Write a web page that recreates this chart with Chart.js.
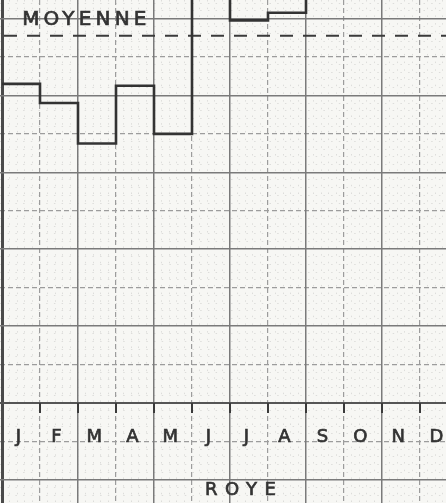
<!DOCTYPE html>
<html>
<head>
<meta charset="utf-8">
<script src="https://cdn.jsdelivr.net/npm/chart.js@4/dist/chart.umd.min.js"></script>
<style>
  html, body { margin: 0; padding: 0; background: #f7f7f4; }
  #wrap { width: 446px; height: 503px; position: relative; }
</style>
</head>
<body>
<div id="wrap"><canvas id="chart"></canvas></div>
<script>
// données (1 carreau = 10 unités)
const months = ["J", "F", "M", "A", "M", "J", "J", "A", "S", "O", "N", "D"];
// J..S ; juin et septembre dépassent le cadre (estimés)
const monthValues = [83, 78, 67.5, 82.5, 70, 115, 99.5, 101.5, 115];
const meanValue = 95.5;
const meanLabel = "MOYENNE";
const stationName = "ROYE";

// fenêtre visible du papier millimétré
const xMin = -2 / 38, xMax = 444 / 38;
const yMin = -26, yMax = 104.8;

// courbe en escalier : un point par début de mois + point final
const stepPoints = monthValues.map((v, i) => ({ x: i, y: v }));
stepPoints.push({ x: monthValues.length, y: monthValues[monthValues.length - 1] });

const range = (a, b, s) => {
  const out = [];
  for (let v = a; v <= b + 1e-9; v += s) out.push({ value: +v.toFixed(3) });
  return out;
};

const gridScale = (axis, min, max, ticks, grid, dash) => ({
  type: "linear",
  axis,
  min,
  max,
  afterBuildTicks: (s) => { s.ticks = ticks; },
  ticks: { display: false },
  grid: Object.assign({ drawTicks: false }, grid),
  border: { display: false, dash: dash || [] },
});

const fineX = range(0, 12, 0.2).filter((t) => Math.abs(t.value - Math.round(t.value)) > 0.01);
const fineY = range(-30, 110, 2).filter((t) => t.value % 10 !== 0);

// texte un peu épaissi (aspect tracé au normographe)
function inkText(ctx, text, px, py) {
  ctx.fillText(text, px, py);
  ctx.strokeText(text, px, py);
}

// texte étalé sur une largeur donnée (en mois)
function spreadText(ctx, x, text, left, widthMonths, py) {
  ctx.letterSpacing = "0px";
  const w = ctx.measureText(text).width;
  const target = x.getPixelForValue(left + widthMonths) - x.getPixelForValue(left);
  ctx.letterSpacing = Math.max(0, (target - w) / (text.length - 1)) + "px";
  inkText(ctx, text, x.getPixelForValue(left), py);
  ctx.letterSpacing = "0px";
}

const labelsPlugin = {
  id: "labels",
  afterDraw(chart) {
    const { ctx, scales: { x, y } } = chart;
    ctx.save();

    // petits traits en haut de la bande des mois
    ctx.strokeStyle = "#3a3a3a";
    ctx.lineWidth = 2;
    for (let i = 1; i < 12; i++) {
      const px = x.getPixelForValue(i);
      ctx.beginPath();
      ctx.moveTo(px, y.getPixelForValue(0));
      ctx.lineTo(px, y.getPixelForValue(-2.6));
      ctx.stroke();
    }

    ctx.fillStyle = "#333333";
    ctx.strokeStyle = "#333333";
    ctx.lineWidth = 0.7;
    ctx.textBaseline = "middle";
    ctx.textAlign = "center";
    ctx.font = "18px 'DejaVu Sans'";
    months.forEach((m, i) => {
      inkText(ctx, m, x.getPixelForValue(i + 0.43), y.getPixelForValue(-8.8));
    });

    ctx.textAlign = "left";
    ctx.font = "20px 'DejaVu Sans'";
    spreadText(ctx, x, meanLabel, 0.53, 3.27, y.getPixelForValue(99.6));

    ctx.font = "18px 'DejaVu Sans'";
    spreadText(ctx, x, stationName, 5.34, 1.87, y.getPixelForValue(-22.6));
    ctx.restore();
  },
};

new Chart(document.getElementById("chart"), {
  type: "line",
  data: {
    datasets: [
      {
        data: stepPoints,
        stepped: true,
        borderColor: "#333333",
        borderWidth: 2.6,
        pointRadius: 0,
        fill: false,
      },
      {
        data: [{ x: xMin, y: meanValue }, { x: xMax, y: meanValue }],
        borderColor: "#3a3a3a",
        borderWidth: 2.2,
        borderDash: [13, 10],
        borderDashOffset: -4,
        pointRadius: 0,
        fill: false,
      },
    ],
  },
  options: {
    responsive: true,
    maintainAspectRatio: false,
    animation: false,
    layout: { padding: 0 },
    plugins: { legend: { display: false }, tooltip: { enabled: false } },
    scales: {
      xFine: gridScale("x", xMin, xMax, fineX, { color: "rgba(0,0,0,0.10)", lineWidth: 1 }, [1.5, 6.2]),
      yFine: gridScale("y", yMin, yMax, fineY, { color: "rgba(0,0,0,0.10)", lineWidth: 1 }, [1.5, 6.2]),
      xMinor: gridScale("x", xMin, xMax, range(1, 11, 2), { color: "#9c9c9c", lineWidth: 1.2 }, [5, 3]),
      yMinor: gridScale("y", yMin, yMax, range(-10, 90, 20), { color: "#9c9c9c", lineWidth: 1.2 }, [5, 3]),
      x: gridScale("x", xMin, xMax, range(0, 12, 2), {
        color: (c) => (c.tick && c.tick.value === 0 ? "#4a4a4a" : "#7a7a7a"),
        lineWidth: (c) => (c.tick && c.tick.value === 0 ? 3 : 1.5),
      }),
      y: gridScale("y", yMin, yMax, range(-20, 100, 20), {
        color: (c) => (c.tick && c.tick.value === 0 ? "#555555" : "#7a7a7a"),
        lineWidth: (c) => (c.tick && c.tick.value === 0 ? 2 : 1.5),
      }),
    },
  },
  plugins: [labelsPlugin],
});
</script>
</body>
</html>
